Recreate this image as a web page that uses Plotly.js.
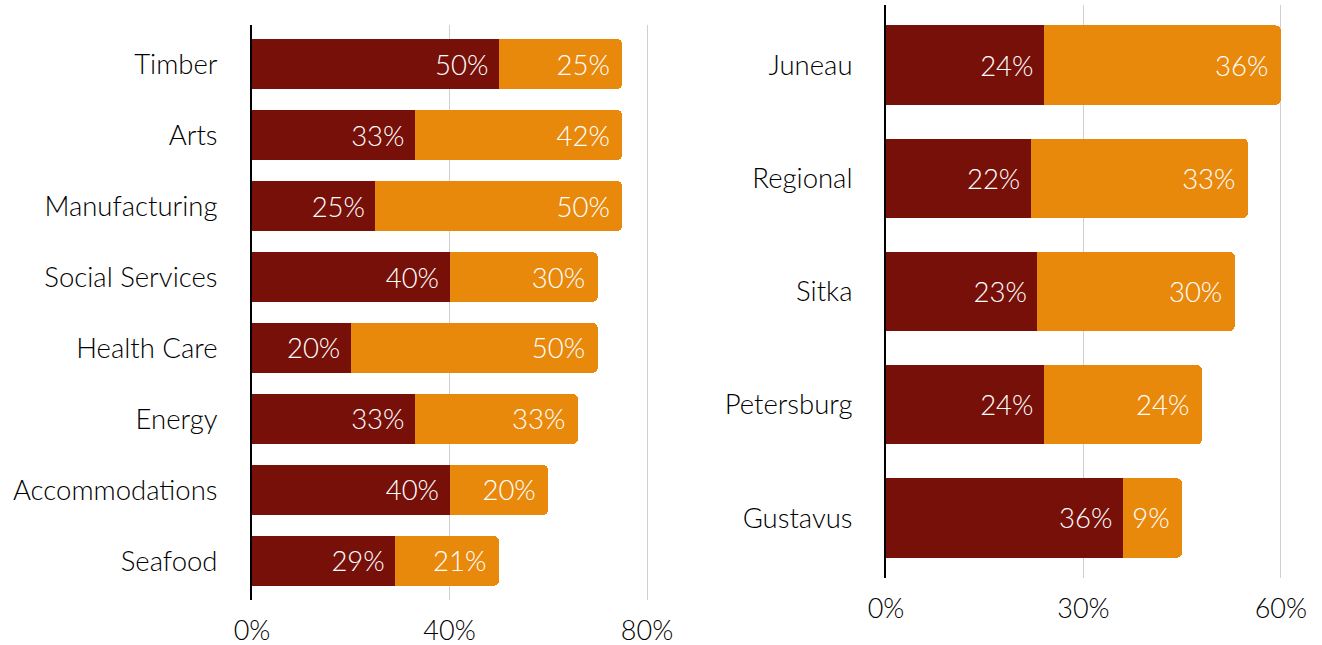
<!DOCTYPE html>
<html>
<head>
<meta charset="utf-8">
<script src="https://cdn.plot.ly/plotly-3.0.1.min.js"></script>
<style>html,body{margin:0;padding:0;background:#fff;}#chart{width:1322px;height:645px;}</style>
</head>
<body>
<div id="chart"></div>
<script>
// Left panel: industries
const industries = ["Timber", "Arts", "Manufacturing", "Social Services", "Health Care", "Energy", "Accommodations", "Seafood"];
const industryDark = [50, 33, 25, 40, 20, 33, 40, 29];
const industryOrange = [25, 42, 50, 30, 50, 33, 20, 21];
// Right panel: communities
const places = ["Juneau", "Regional", "Sitka", "Petersburg", "Gustavus"];
const placeDark = [24, 22, 23, 24, 36];
const placeOrange = [36, 33, 30, 24, 9];
// Tick labels
const leftTicks = [0, 40, 80];
const leftTickText = ["0%", "40%", "80%"];
const rightTicks = [0, 30, 60];
const rightTickText = ["0%", "30%", "60%"];

const DARK = "#771009";
const ORANGE = "#E8890C";
const FONT = "Lato, 'Open Sans', sans-serif";
const NBSP = "\u00a0";

function barTrace(y, x, color, xa, ya) {
  return {
    type: "bar", orientation: "h", y: y, x: x,
    xaxis: xa, yaxis: ya,
    marker: {color: color, line: {width: 0}},
    text: x.map(v => v + "%" + NBSP),
    textposition: "inside", insidetextanchor: "end",
    textfont: {color: "#ffffff", size: 27.5, family: FONT, weight: 300},
    constraintext: "none",
    hoverinfo: "skip", showlegend: false
  };
}

const data = [
  barTrace(industries, industryDark, DARK, "x", "y"),
  barTrace(industries, industryOrange, ORANGE, "x", "y"),
  barTrace(places, placeDark, DARK, "x2", "y2"),
  barTrace(places, placeOrange, ORANGE, "x2", "y2")
];

const W = 1322, H = 645;
function dx(a, b) { return [a / W, b / W]; }
function dy(top, bottom) { return [(H - bottom) / H, (H - top) / H]; }

const axisX = (domain, range, tv, tt, anchor) => ({
  domain: domain, range: range, anchor: anchor,
  tickvals: tv, ticktext: tt,
  showgrid: true, gridcolor: "#cfcfcf", gridwidth: 1,
  zeroline: false, showline: false, ticks: "",
  ticklabelstandoff: 12,
  tickfont: {size: 27, color: "#000", family: FONT, weight: 300},
  fixedrange: true
});
const axisY = (domain, range, anchor, standoff) => ({
  domain: domain, range: range, anchor: anchor, type: "category",
  showgrid: false, zeroline: false,
  showline: true, linecolor: "#000", linewidth: 2,
  ticks: "", ticklabelstandoff: standoff,
  tickfont: {size: 27.5, color: "#000", family: FONT, weight: 300},
  fixedrange: true
});

const layout = {
  width: W, height: H,
  margin: {l: 0, r: 0, t: 0, b: 0},
  paper_bgcolor: "#fff", plot_bgcolor: "#fff",
  barmode: "stack", bargap: 0.3, barcornerradius: 5,
  font: {family: FONT, size: 27, color: "#000"},
  xaxis: axisX(dx(252, 656.9), [0, 82], leftTicks, leftTickText, "y"),
  yaxis: axisY(dy(25, 600), [7.55, -0.55], "x", 27),
  xaxis2: axisX(dx(886, 1294), [0, 62], rightTicks, rightTickText, "y2"),
  yaxis2: axisY(dy(5, 578), [4.53, -0.53], "x2", 26)
};

Plotly.newPlot("chart", data, layout, {displayModeBar: false, staticPlot: true});
</script>
</body>
</html>
